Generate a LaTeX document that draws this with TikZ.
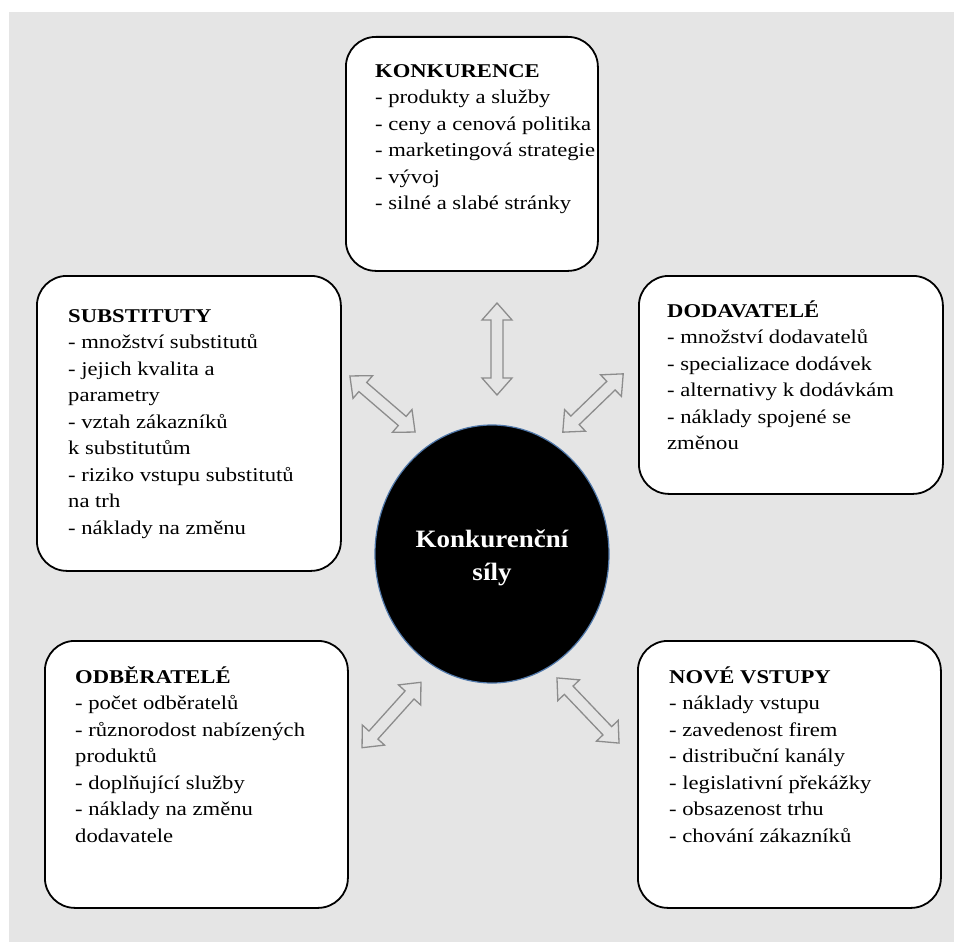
\documentclass[tikz,border=0pt]{standalone}
\usepackage{fontspec}
\setmainfont[FakeStretch=1.16]{Liberation Serif}
\newfontfamily\circfont[FakeStretch=1.08]{Liberation Serif}
\definecolor{bg}{RGB}{229,229,229}
\definecolor{arrgray}{RGB}{140,140,140}
\definecolor{ringblue}{RGB}{80,120,170}
\tikzset{
  box/.style={draw=black, line width=1.8pt, fill=white, rounded corners=30pt, anchor=north west, inner sep=0pt},
  boxtext/.style={anchor=north west, align=left, inner sep=0pt, font=\fontsize{19.5}{26.5}\selectfont},
  arrline/.style={draw=arrgray, line width=1.3pt, line join=miter},
  pics/darr/.style={code={
    \path[arrline] (-#1,0) -- (-#1+17,15) -- (-#1+17,6) -- (#1-17,6) -- (#1-17,15) -- (#1,0)
      -- (#1-17,-15) -- (#1-17,-6) -- (-#1+17,-6) -- (-#1+17,-15) -- cycle;
  }}
}
\begin{document}
\begin{tikzpicture}[x=1pt,y=-1pt]
\useasboundingbox (0,0) rectangle (954,942);
\fill[bg] (9,12) rectangle (954,942);

% boxes
\node[box, minimum width=252pt, minimum height=234pt] (konk) at (345,36) {};
\node[box, minimum width=304pt, minimum height=295pt] (subs) at (36,275) {};
\node[box, minimum width=304pt, minimum height=218pt] (doda) at (638,275) {};
\node[box, minimum width=303pt, minimum height=267pt] (odbe) at (44,640) {};
\node[box, minimum width=303pt, minimum height=267pt] (nove) at (637,640) {};

% texts
\node[boxtext] (tk) at (375,58.5) {\strut\textbf{KONKURENCE}\\- produkty a služby\\- ceny a cenová politika\\- marketingová strategie\\- vývoj\\- silné a slabé stránky};
\node[boxtext] (ts) at (68,303.5) {\strut\textbf{SUBSTITUTY}\\- množství substitutů\\- jejich kvalita a\\parametry\\- vztah zákazníků\\k substitutům\\- riziko vstupu substitutů\\na trh\\- náklady na změnu};
\node[boxtext] (td) at (667,298.5) {\strut\textbf{DODAVATELÉ}\\- množství dodavatelů\\- specializace dodávek\\- alternativy k dodávkám\\- náklady spojené se\\změnou};
\node[boxtext] (to) at (75,664.5) {\strut\textbf{ODBĚRATELÉ}\\- počet odběratelů\\- různorodost nabízených\\produktů\\- doplňující služby\\- náklady na změnu\\dodavatele};
\node[boxtext] (tn) at (669,664.5) {\strut\textbf{NOVÉ VSTUPY}\\- náklady vstupu\\- zavedenost firem\\- distribuční kanály\\- legislativní překážky\\- obsazenost trhu\\- chování zákazníků};

% centre ellipse
\draw[fill=black, draw=ringblue, line width=1.2pt] (492,554) ellipse [x radius=117pt, y radius=129pt];
\node[text=white, align=center, inner sep=0pt, font=\circfont\bfseries\fontsize{25}{33}\selectfont, anchor=base] (ctext) at (492,580) {Konkurenční\\síly};

% double arrows
\pic (arrT) at (497,349) [rotate=90] {darr=46};
\pic (arrUL) at (382.5,404) [rotate=-40.7] {darr=43};
\pic (arrUR) at (593,403) [rotate=44] {darr=42};
\pic (arrLL) at (391.5,715) [rotate=48] {darr=44};
\pic (arrLR) at (588,710.5) [rotate=-46.4] {darr=45};
\end{tikzpicture}
\end{document}
